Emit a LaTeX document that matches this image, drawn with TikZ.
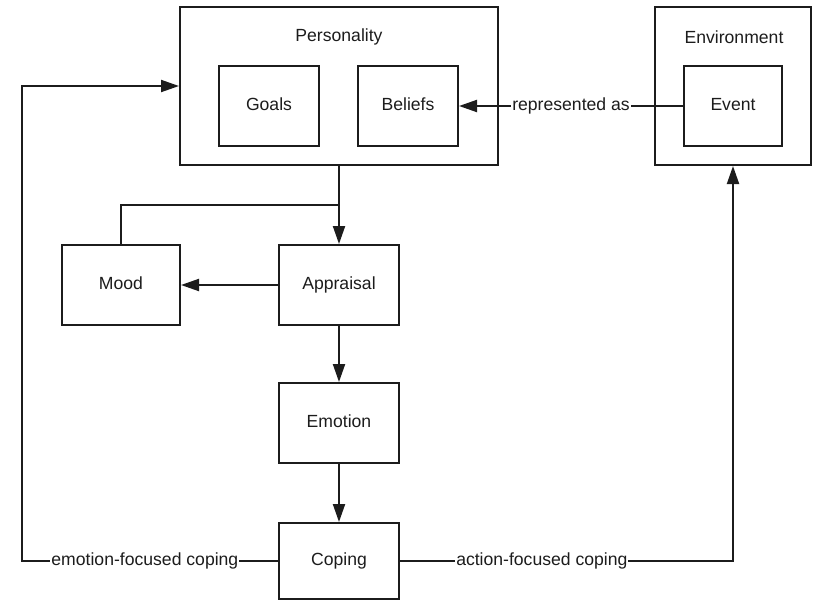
\documentclass[tikz,border=0pt]{standalone}
\usepackage{fontspec}
\setmainfont{Liberation Sans}
\usetikzlibrary{arrows.meta}
\definecolor{ink}{HTML}{1C1C1C}
\begin{document}
\begin{tikzpicture}[x=1pt,y=-1pt,
  txt/.style={text=ink, font=\fontsize{17.6}{20}\selectfont},
  box/.style={txt, draw=ink, line width=2pt, inner sep=0pt,
    text height=12.6pt, text depth=3.8pt},
  title/.style={txt, inner sep=0pt},
  wire/.style={draw=ink, line width=2pt},
  arr/.style={wire, -{Triangle[length=18pt,width=12pt]}},
  lbl/.style={txt, fill=white, inner sep=1pt}]
\useasboundingbox (0,0) rectangle (813,600);

% outer containers
\node[box, minimum width=318pt, minimum height=158pt] (personality) at (339,86) {};
\node[title] (ptitle) at (339,37) {Personality};
\node[box, minimum width=156pt, minimum height=158pt] (environment) at (733,86) {};
\node[title] (etitle) at (734,37) {Environment};

% inner boxes
\node[box, minimum width=100pt, minimum height=80pt] (goals) at (269,106) {Goals};
\node[box, minimum width=100pt, minimum height=80pt] (beliefs) at (408,106) {Beliefs};
\node[box, minimum width=98pt, minimum height=80pt] (event) at (733,106) {Event};

% process chain
\node[box, minimum width=118pt, minimum height=80pt] (mood) at (121,285) {Mood};
\node[box, minimum width=120pt, minimum height=80pt] (appraisal) at (339,285) {Appraisal};
\node[box, minimum width=120pt, minimum height=80pt] (emotion) at (339,423) {Emotion};
\node[box, minimum width=120pt, minimum height=76pt] (coping) at (339,561) {Coping};

% helper points
\coordinate (split) at (339,205);
\coordinate (fbL) at (22,561);
\coordinate (fbR) at (733,561);

% connectors
\draw[arr] (event.west) -- node[lbl]{represented as} (beliefs.east);
\draw[arr] (personality.south) -- (appraisal.north);
\draw[wire] (mood.north) |- (split);
\draw[arr] (appraisal.west) -- (mood.east);
\draw[arr] (appraisal.south) -- (emotion.north);
\draw[arr] (emotion.south) -- (coping.north);
\draw[arr] (coping.west) -- node[lbl, pos=0.52]{emotion-focused coping} (fbL) |- (personality.west);
\draw[arr] (coping.east) -- node[lbl, pos=0.426]{action-focused coping} (fbR) -- (environment.south);
\end{tikzpicture}
\end{document}
